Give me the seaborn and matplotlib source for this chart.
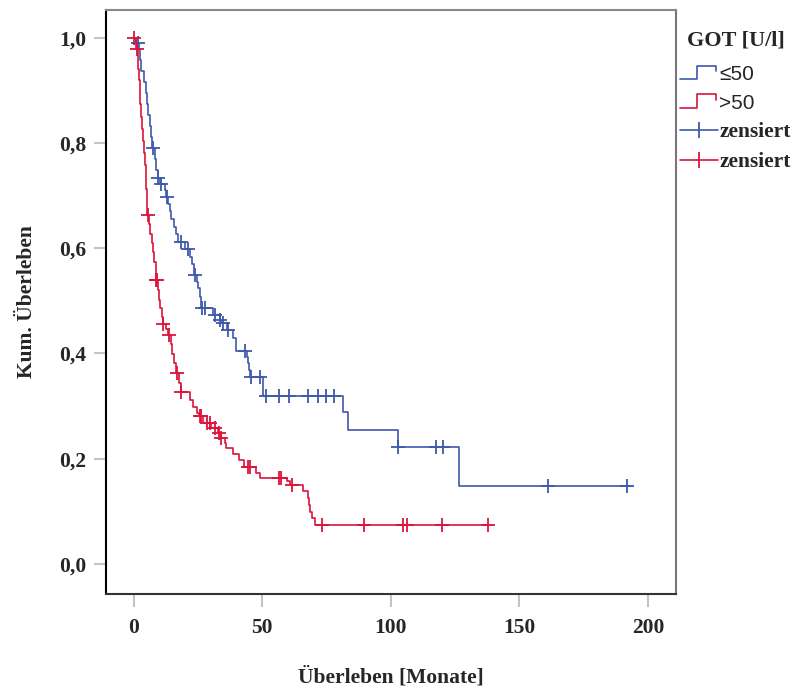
import numpy as np
import pandas as pd
import matplotlib
matplotlib.use("Agg")
import matplotlib.pyplot as plt
from matplotlib.lines import Line2D
from matplotlib.legend_handler import HandlerBase
import seaborn as sns

# ---------------- data ----------------
legend_title = "GOT [U/l]"
group_labels = ["\u226450", ">50"]
censor_label = "zensiert"

blue_t = [0, 0.8, 2.0, 2.6, 3.0, 4.0, 4.9, 5.3, 5.7, 6.2, 6.6, 7.2, 8.2, 8.8, 9.3,
          10.2, 12.0, 12.7, 13.5, 14.0, 14.6, 15.5, 16.4, 17.3, 20.0, 22.0, 22.8,
          23.5, 24.5, 25.0, 25.6, 26.2, 30.9, 33.5, 34.5, 36.2, 38.6, 39.9, 44.1,
          44.6, 45.0, 45.3, 50.3, 81.2, 83.4, 102.6, 126.6, 193.0]
blue_s = [1.0, 0.989, 0.978, 0.957, 0.936, 0.915, 0.895, 0.874, 0.853, 0.832, 0.811,
          0.790, 0.769, 0.748, 0.734, 0.722, 0.710, 0.697, 0.684, 0.670, 0.655, 0.641,
          0.626, 0.612, 0.598, 0.584, 0.569, 0.548, 0.536, 0.524, 0.508, 0.486, 0.473,
          0.464, 0.457, 0.445, 0.429, 0.404, 0.394, 0.381, 0.368, 0.355, 0.319, 0.288,
          0.255, 0.223, 0.148, 0.148]
blue_cens = [1.5, 7.5, 9.5, 10.4, 12.8, 18.5, 21.1, 23.7, 26.7, 27.6, 31.5, 33.6,
             34.8, 36.6, 43.2, 45.5, 49.0, 51.6, 56.5, 60.4, 67.8, 71.7, 74.9, 77.8,
             102.6, 117.4, 120.4, 161.2, 191.7]

red_t = [0, 1.0, 1.5, 1.8, 2.0, 2.3, 2.6, 2.9, 3.2, 3.5, 3.9, 4.2, 4.6, 4.9, 5.3,
         6.0, 6.5, 7.0, 7.5, 8.0, 8.6, 9.3, 9.8, 10.3, 10.8, 11.2, 12.5, 13.3, 14.3,
         15.0, 15.6, 16.3, 17.5, 18.2, 21.8, 23.1, 24.5, 25.2, 26.8, 30.0, 32.8, 33.8,
         35.3, 36.0, 38.5, 41.0, 43.0, 47.5, 49.0, 59.5, 60.8, 65.9, 67.8, 68.2, 68.7,
         69.5, 70.4, 138.0]
red_s = [1.0, 0.979, 0.960, 0.940, 0.920, 0.896, 0.873, 0.850, 0.827, 0.804, 0.781,
         0.758, 0.735, 0.712, 0.662, 0.645, 0.627, 0.610, 0.592, 0.574, 0.540, 0.521,
         0.502, 0.486, 0.470, 0.456, 0.446, 0.435, 0.417, 0.399, 0.381, 0.362, 0.344,
         0.326, 0.312, 0.299, 0.287, 0.281, 0.267, 0.258, 0.249, 0.239, 0.229, 0.220,
         0.209, 0.197, 0.184, 0.173, 0.163, 0.157, 0.150, 0.138, 0.125, 0.112, 0.099,
         0.087, 0.074, 0.074]
red_cens = [0.0, 1.2, 5.6, 8.8, 9.1, 11.4, 13.7, 16.9, 18.5, 25.7, 26.3, 28.5, 29.5,
            31.5, 33.1, 34.1, 44.4, 45.2, 56.5, 57.4, 61.4, 73.4, 89.6, 104.8, 106.3,
            119.7, 137.9]

x_ticks = [0, 50, 100, 150, 200]
y_ticks = [0.0, 0.2, 0.4, 0.6, 0.8, 1.0]
y_ticklabels = ["0,0", "0,2", "0,4", "0,6", "0,8", "1,0"]
x_label = "\u00dcberleben [Monate]"
y_label = "Kum. \u00dcberleben"

BLUE = "#3E58AC"
RED = "#DC143C"

# ---------------- helpers ----------------
def step_value(ts, ss, c):
    idx = np.searchsorted(np.asarray(ts), c, side="right") - 1
    return np.asarray(ss)[idx]

sns.set_style("white")
plt.rcParams["font.family"] = ["Liberation Serif", "DejaVu Serif"]

FS = 15.5

fig = plt.figure(figsize=(8.01, 6.93), dpi=100)
ax = fig.add_axes([0.132, 0.143, 0.712, 0.843])

curves = pd.concat([
    pd.DataFrame({"t": blue_t, "s": blue_s, "g": group_labels[0]}),
    pd.DataFrame({"t": red_t, "s": red_s, "g": group_labels[1]}),
])
cens = pd.concat([
    pd.DataFrame({"t": blue_cens, "s": step_value(blue_t, blue_s, blue_cens), "g": group_labels[0]}),
    pd.DataFrame({"t": red_cens, "s": step_value(red_t, red_s, red_cens), "g": group_labels[1]}),
])
pal = {group_labels[0]: BLUE, group_labels[1]: RED}

for g in group_labels:
    sub = curves[curves.g == g]
    sns.lineplot(data=sub, x="t", y="s", color=pal[g], drawstyle="steps-post",
                 estimator=None, sort=False, lw=1.2, ax=ax, legend=False)
    csub = cens[cens.g == g]
    sns.scatterplot(data=csub, x="t", y="s", color=pal[g], marker="+", s=90,
                    linewidth=1.3, ax=ax, legend=False, zorder=3)

ax.set_xlim(-10.9, 210.9)
ax.set_ylim(-0.057, 1.053)
ax.set_xticks(x_ticks)
ax.set_xticklabels([str(v) for v in x_ticks])
ax.set_yticks(y_ticks)
ax.set_yticklabels(y_ticklabels)
ax.tick_params(axis="both", which="major", direction="out", length=9, width=1.5,
               color="#c4c4c4", labelsize=FS, bottom=True, left=True)
ax.tick_params(axis="x", pad=8)
ax.tick_params(axis="y", pad=5)
for lab in ax.get_xticklabels() + ax.get_yticklabels():
    lab.set_fontweight("bold")
ax.set_xlabel(x_label, fontsize=FS, fontweight="bold", labelpad=21)
ax.set_ylabel(y_label, fontsize=FS, fontweight="bold", labelpad=16)

for side, col in [("left", "#000000"), ("bottom", "#333333"), ("top", "#888888"), ("right", "#777777")]:
    ax.spines[side].set_visible(True)
    ax.spines[side].set_color(col)
    ax.spines[side].set_linewidth(1.5)


class StepHandler(HandlerBase):
    def create_artists(self, legend, orig_handle, xdescent, ydescent, width, height, fontsize, trans):
        x0, y0 = -xdescent, -ydescent
        xs = [x0, x0 + 0.45 * width, x0 + 0.45 * width, x0 + 0.95 * width, x0 + 0.95 * width]
        ys = [y0 + 0.05 * height, y0 + 0.05 * height, y0 + 0.95 * height, y0 + 0.95 * height, y0 + 0.6 * height]
        ln = Line2D(xs, ys, color=orig_handle.get_color(), lw=1.2, transform=trans)
        return [ln]


h_blue = Line2D([], [], color=BLUE)
h_red = Line2D([], [], color=RED)
h_bc = Line2D([], [], color=BLUE, marker="|", markersize=12, lw=1.2, markeredgewidth=1.3)
h_rc = Line2D([], [], color=RED, marker="|", markersize=12, lw=1.2, markeredgewidth=1.3)

leg = fig.legend([h_blue, h_red, h_bc, h_rc],
                 [group_labels[0], group_labels[1], censor_label, censor_label],
                 handler_map={h_blue: StepHandler(), h_red: StepHandler()},
                 loc="upper left", bbox_to_anchor=(680 / 801, 1 - 31 / 693),
                 frameon=False, fontsize=FS, title=legend_title,
                 title_fontproperties={"family": "Liberation Serif", "weight": "bold", "size": 16},
                 handlelength=1.75, handletextpad=0.08, labelspacing=0.45,
                 borderpad=0, borderaxespad=0, numpoints=1)
texts = leg.get_texts()
for t in texts[:2]:
    t.set_fontfamily(["Liberation Sans", "DejaVu Sans"])
    t.set_fontsize(15)
for t in texts[2:]:
    t.set_fontweight("bold")
leg._legend_box.sep = 10

fig.savefig("out.png", dpi=100)
